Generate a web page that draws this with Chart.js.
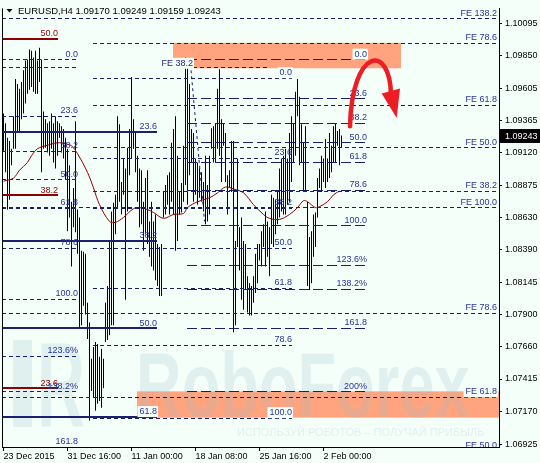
<!DOCTYPE html>
<html><head><meta charset="utf-8">
<script src="https://cdn.jsdelivr.net/npm/chart.js@4.4.1/dist/chart.umd.min.js"></script>
<style>html,body{margin:0;padding:0;background:#F5FFFA;}canvas{display:block;}</style>
</head><body>
<canvas id="c" width="540" height="463" style="width:540px;height:463px"></canvas>
<script>
// ---------- DATA ----------
const symbolName = 'EURUSD,H4';
const lastBarOHLC = [1.09170, 1.09249, 1.09159, 1.09243];

const xTickIndex = [0, 32, 64, 96, 128, 160];
const xTickLabels = ['23 Dec 2015', '31 Dec 16:00', '11 Jan 00:00', '18 Jan 08:00', '25 Jan 16:00', '2 Feb 00:00'];
const yTickValues = [1.10095, 1.09850, 1.09605, 1.09365, 1.09120, 1.08875, 1.08630, 1.08390, 1.08145, 1.07900, 1.07660, 1.07415, 1.07170, 1.06925];

const barHigh = [
1.09415,1.09341,1.09231,1.09208,1.09149,1.09393,1.09674,1.09637,1.09600,1.09652,
1.09740,1.09814,1.09822,1.09896,1.09888,1.09836,1.09888,1.09814,1.09910,1.09822,
1.09430,1.09371,1.09341,1.09356,1.09415,1.09341,1.09393,1.09356,1.09341,1.09319,
1.09297,1.09231,1.09149,1.09024,1.08750,1.08854,1.09356,1.08691,1.08632,1.08381,
1.08373,1.08358,1.07989,1.07841,1.07568,1.07656,1.07693,1.07679,1.07583,1.07642,
1.07568,1.07989,1.08115,1.08455,1.08676,1.08743,1.08802,1.09393,1.09334,1.08898,
1.09075,1.09001,1.09157,1.09297,1.09689,1.09371,1.09282,1.09097,1.09001,1.08987,
1.08750,1.08928,1.08987,1.08602,1.08750,1.08602,1.08654,1.08432,1.08410,1.08432,
1.08824,1.08876,1.08950,1.08972,1.09194,1.09297,1.09393,1.09097,1.08824,1.08891,
1.09171,1.09836,1.09785,1.09637,1.09297,1.09267,1.09075,1.09046,1.09001,1.08972,
1.08898,1.09097,1.08876,1.09097,1.09304,1.09319,1.09341,1.09600,1.09748,1.09371,
1.09341,1.09267,1.08950,1.08987,1.09208,1.09208,1.08455,1.09075,1.08558,1.08632,
1.08455,1.08432,1.08189,1.08137,1.08115,1.08189,1.08358,1.08432,1.08432,1.08528,
1.08580,1.08676,1.08602,1.08558,1.08802,1.08780,1.08765,1.08824,1.09001,1.09075,
1.09097,1.09149,1.09075,1.09267,1.09393,1.09341,1.09578,1.09674,1.09541,1.09334,
1.09194,1.09319,1.08750,1.08484,1.08528,1.08654,1.08669,1.08928,1.09001,1.09097,
1.09075,1.09223,1.09075,1.09267,1.09171,1.09319,1.09341,1.09282,1.09297,1.09249];
const barLow = [
1.09134,1.08972,1.08691,1.08765,1.09024,1.09149,1.09149,1.09267,1.09282,1.09371,
1.09415,1.09489,1.09563,1.09593,1.09615,1.09578,1.09563,1.09563,1.09652,1.08972,
1.09149,1.09157,1.09120,1.09097,1.09149,1.09046,1.09001,1.09097,1.09231,1.09120,
1.09075,1.08913,1.08528,1.08632,1.08262,1.08558,1.08521,1.08358,1.07804,1.07819,
1.07967,1.07900,1.07716,1.07102,1.07324,1.07272,1.07176,1.07228,1.07250,1.07198,
1.07346,1.07693,1.07708,1.07745,1.07819,1.07819,1.08506,1.08706,1.08750,1.08654,
1.08802,1.08011,1.08676,1.08950,1.09075,1.09149,1.08972,1.08750,1.08558,1.08580,
1.08381,1.08506,1.08432,1.08336,1.08262,1.08233,1.08159,1.08115,1.08041,1.08041,
1.08632,1.08654,1.08728,1.08654,1.08750,1.08654,1.08381,1.08455,1.08654,1.08669,
1.08750,1.08876,1.08728,1.08950,1.09046,1.08750,1.08802,1.08728,1.08780,1.08750,
1.08676,1.08580,1.08602,1.08654,1.09149,1.09046,1.09046,1.09149,1.09097,1.08898,
1.09171,1.08898,1.08654,1.08854,1.08824,1.07767,1.07819,1.08410,1.08233,1.08011,
1.07937,1.08085,1.07915,1.07893,1.07893,1.07989,1.08063,1.08137,1.08307,1.08262,
1.08410,1.08262,1.08336,1.08189,1.08432,1.08410,1.08506,1.08580,1.08632,1.08676,
1.08654,1.08654,1.08728,1.08750,1.08898,1.09046,1.09097,1.09393,1.09024,1.09046,
1.08824,1.08824,1.08115,1.08085,1.08137,1.08336,1.08410,1.08632,1.08854,1.08824,
1.08898,1.08854,1.08898,1.08928,1.08972,1.09046,1.09046,1.09171,1.09024,1.09159];

const maIndex = [0,5,8,12,14,17,21,27,31,34,37,42,45,48,53,56,60,65,68,72,75,80,85,90,92,97,103,107,111,115,120,125,130,133,138,143,147,150,152,156,158,162,165,168];
const maValue = [1.08905,1.08928,1.08987,1.09046,1.09097,1.09149,1.09171,1.09194,1.09186,1.09171,1.09112,1.08972,1.08854,1.08728,1.08602,1.08595,1.08632,1.08698,1.08706,1.08691,1.08669,1.08625,1.08654,1.08662,1.08706,1.08750,1.08780,1.08817,1.08861,1.08846,1.08817,1.08728,1.08654,1.08625,1.08617,1.08654,1.08706,1.08758,1.08750,1.08706,1.08713,1.08750,1.08802,1.08831];

// Fibonacci retracements / expansions (price levels, labels, bar-index span)
const fibA_labels = ['50.0', '38.2', '23.6'];
const fibA_prices = [1.09977, 1.08797, 1.07346];
const fibA_span = [-1, 27.25];

const fibB_labels = ['0.0','23.6','38.2','50.0','61.8','78.6','100.0','123.6%','138.2%','161.8'];
const fibB_prices = [1.09824,1.09397,1.09134,1.08920,1.08706,1.08403,1.08019,1.07590,1.07324,1.06905];
const fibB_span = [-1, 37.25];

const fibC_labels = ['23.6','38.2','50.0','61.8'];
const fibC_prices = [1.09277,1.08455,1.07797,1.07132];
const fibC_span = [-1, 76.75];

const fibD_labels = ['0.0','23.6','38.2','50.0','61.8','78.6','100.0','123.6%','138.2%','161.8','200%'];
const fibD_prices = [1.09824,1.09528,1.09346,1.09198,1.09051,1.08840,1.08573,1.08277,1.08095,1.07800,1.07322];
const fibD_span = [91.75, 181.75];

const fibE_labels = ['0.0','23.6','38.2','50.0','61.8','78.6','100.0'];
const fibE_prices = [1.09684,1.09080,1.08706,1.08403,1.08102,1.07672,1.07124];
const fibE_span = [44.75, 144.25];

const fe1_labels = ['FE 78.6','FE 61.8','FE 50.0','FE 38.2'];
const fe1_prices = [1.09947,1.09480,1.09159,1.08834];
const fe1_span = [44.75, 260];

const fe2_labels = ['FE 138.2','FE 100.0','FE 78.6','FE 61.8','FE 50.0'];
const fe2_prices = [1.10130,1.08708,1.07913,1.07282,1.06873];
const fe2_span = [-1, 260];

const plainLevelPrice = [1.09768, 1.09768];
const plainLevelFrom = [-1, 94.75];
const plainLevelTo = [37.25, 133.25];

const boxFrom = [84.75, 66.75];
const boxTo = [198.75, 260];
const boxTop = [1.09947, 1.07322];
const boxBottom = [1.09755, 1.07124];

const feNoteText = 'FE 38.2';
const feNoteAt = [94.75, 1.09800];
const diagFrom = [93.5, 1.09785];
const diagTo = [100.5, 1.08602];

const arrowStart = [173.25, 1.09319];
const arrowCtrl1 = [174.25, 1.09910];
const arrowCtrl2 = [193.25, 1.09947];
const arrowEnd = [193.75, 1.09556];
const arrowHead = [[189.1, 1.09565], [198.25, 1.09602], [196.6, 1.09381]];

// ---------- STYLE ----------
const FONT = '"Liberation Sans", Arial, sans-serif';
const BG = '#F5FFFA';
const NAVY = '#18206e';
const LBL = '#283398';
const DRED = '#8b0000';

const families = [
  {prices: fibA_prices, labels: fibA_labels, span: fibA_span, color: DRED, width: 2, dash: [], text: DRED},
  {prices: fibB_prices, labels: fibB_labels, span: fibB_span, color: NAVY, width: 1, dash: [4,3], text: LBL},
  {prices: fibC_prices, labels: fibC_labels, span: fibC_span, color: '#1b2170', width: 2, dash: [], text: LBL},
  {prices: fibD_prices, labels: fibD_labels, span: fibD_span, color: NAVY, width: 1, dash: [10,4], text: LBL},
  {prices: fibE_prices, labels: fibE_labels, span: fibE_span, color: NAVY, width: 1, dash: [4,3], text: LBL},
  {prices: fe1_prices, labels: fe1_labels, span: fe1_span, color: NAVY, width: 1, dash: [4,3], text: LBL},
  {prices: fe2_prices, labels: fe2_labels, span: fe2_span, color: NAVY, width: 1, dash: [4,3], text: LBL}
];

function hline(ctx, x0, x1, yy, color, width, dash) {
  ctx.beginPath();
  ctx.setLineDash(dash);
  ctx.strokeStyle = color;
  ctx.lineWidth = width;
  const yp = width % 2 ? Math.round(yy) + 0.5 : Math.round(yy);
  ctx.moveTo(x0, yp); ctx.lineTo(x1, yp); ctx.stroke();
  ctx.setLineDash([]);
}

function boxRects(chart) {
  const {x, y} = chart.scales;
  return boxFrom.map((f, k) => {
    const x0 = x.getPixelForValue(f), x1 = x.getPixelForValue(boxTo[k]);
    const y0 = y.getPixelForValue(boxTop[k]), y1 = y.getPixelForValue(boxBottom[k]);
    return [x0, y0, x1 - x0, y1 - y0];
  });
}

function drawLabel(ctx, text, xr, yl, color, rects, forceBg) {
  ctx.font = '9px ' + FONT;
  const w = ctx.measureText(text).width;
  const by = yl - 2.5;
  const r = [xr - w - 1, by - 7, w + 2, 8];
  const hit = forceBg || rects.some(b => r[0] < b[0] + b[2] && r[0] + r[2] > b[0] && r[1] < b[1] + b[3] && r[1] + r[3] > b[1]);
  if (hit) { ctx.fillStyle = BG; ctx.fillRect(r[0] - 1, by - 8, w + 3, 11); }
  ctx.fillStyle = color; ctx.textAlign = 'right'; ctx.textBaseline = 'alphabetic';
  ctx.fillText(text, xr, by);
}

const overlay = {
  id: 'overlay',
  beforeDraw(chart) {
    const ctx = chart.ctx;
    ctx.save(); ctx.fillStyle = BG; ctx.fillRect(0, 0, chart.width, chart.height); ctx.restore();
  },
  beforeDatasetsDraw(chart) {
    const {ctx, chartArea: a} = chart;
    ctx.save();
    ctx.beginPath(); ctx.rect(a.left, a.top, a.right - a.left, a.bottom - a.top); ctx.clip();
    ctx.fillStyle = '#ffa47e';
    boxRects(chart).forEach(r => ctx.fillRect(r[0], r[1], r[2], r[3]));
    // watermark
    ctx.fillStyle = 'rgba(150,185,200,0.22)';
    ctx.fillRect(a.left + 11, 340, 19, 87);
    ctx.save(); ctx.translate(a.left + 35, 427); ctx.scale(0.55, 1);
    ctx.font = 'bold 121px ' + FONT; ctx.textAlign = 'left'; ctx.textBaseline = 'alphabetic';
    ctx.fillText('R', 0, 0); ctx.restore();
    ctx.save(); ctx.translate(a.left + 134, 417); ctx.scale(0.68, 1);
    ctx.font = 'bold 93px ' + FONT; ctx.textAlign = 'left'; ctx.textBaseline = 'alphabetic';
    ctx.fillText('RoboForex', 0, 0); ctx.restore();
    ctx.font = '11px ' + FONT; ctx.textAlign = 'left'; ctx.textBaseline = 'middle';
    ctx.fillText('ИСПОЛЬЗУЙ РОБОТОВ – ПОЛУЧАЙ ПРИБЫЛЬ', a.left + 235, 433);
    ctx.restore();
  },
  afterDatasetsDraw(chart) {
    const {ctx, chartArea: a, scales: {x, y}} = chart;
    const rects = boxRects(chart);
    const P = (i, p) => [x.getPixelForValue(i), y.getPixelForValue(p)];
    ctx.save();
    ctx.beginPath(); ctx.rect(a.left, a.top, a.right - a.left, a.bottom - a.top); ctx.clip();
    families.forEach(f => {
      const x0 = Math.max(x.getPixelForValue(f.span[0]), a.left);
      const x1 = Math.min(x.getPixelForValue(f.span[1]), a.right);
      f.prices.forEach(p => hline(ctx, x0, x1, y.getPixelForValue(p), f.color, f.width, f.dash));
    });
    plainLevelPrice.forEach((p, k) => {
      hline(ctx, Math.max(x.getPixelForValue(plainLevelFrom[k]), a.left), x.getPixelForValue(plainLevelTo[k]), y.getPixelForValue(p), NAVY, 1, [4,3]);
    });
    ctx.beginPath(); ctx.setLineDash([3,3]); ctx.strokeStyle = NAVY; ctx.lineWidth = 1;
    const d0 = P(...diagFrom), d1 = P(...diagTo);
    ctx.moveTo(d0[0], d0[1]); ctx.lineTo(d1[0], d1[1]); ctx.stroke(); ctx.setLineDash([]);
    families.forEach(f => {
      const x1 = Math.min(x.getPixelForValue(f.span[1]), a.right - 2);
      f.prices.forEach((p, k) => drawLabel(ctx, f.labels[k], x1, y.getPixelForValue(p), f.text, rects, false));
    });
    const n = P(...feNoteAt);
    drawLabel(ctx, feNoteText, n[0], n[1] + 6, '#2a2580', rects, true);
    const s = P(...arrowStart), c1 = P(...arrowCtrl1), c2 = P(...arrowCtrl2), e = P(...arrowEnd);
    ctx.strokeStyle = '#ee1c24'; ctx.lineWidth = 4.5; ctx.lineCap = 'round';
    ctx.beginPath(); ctx.moveTo(s[0], s[1]); ctx.bezierCurveTo(c1[0], c1[1], c2[0], c2[1], e[0], e[1]); ctx.stroke();
    ctx.fillStyle = '#ee1c24'; ctx.beginPath();
    arrowHead.forEach((h, k) => { const q = P(h[0], h[1]); if (k === 0) ctx.moveTo(q[0], q[1]); else ctx.lineTo(q[0], q[1]); });
    ctx.closePath(); ctx.fill();
    ctx.restore();

    ctx.save();
    ctx.strokeStyle = '#000'; ctx.lineWidth = 1;
    ctx.beginPath(); ctx.moveTo(Math.round(a.left) + 0.5, a.top); ctx.lineTo(Math.round(a.left) + 0.5, a.bottom); ctx.stroke();
    ctx.fillStyle = '#000';
    ctx.beginPath(); ctx.moveTo(6.5, 9); ctx.lineTo(12.5, 9); ctx.lineTo(9.5, 12.5); ctx.closePath(); ctx.fill();
    ctx.font = '9.5px ' + FONT; ctx.textAlign = 'left'; ctx.textBaseline = 'alphabetic';
    ctx.fillText(symbolName + ' ' + lastBarOHLC.map(v => v.toFixed(5)).join(' '), 18, 14);
    const py = y.getPixelForValue(lastBarOHLC[3]);
    ctx.fillStyle = '#000'; ctx.fillRect(a.right + 1, Math.round(py) - 7, 41, 14);
    ctx.fillStyle = '#fff'; ctx.font = '9px ' + FONT; ctx.textBaseline = 'middle';
    ctx.fillText(lastBarOHLC[3].toFixed(5), a.right + 6, py);
    ctx.restore();
  }
};

const bars = barHigh.map((h, i) => ({x: i, y: [barLow[i], h]}));
const maPoints = maIndex.map((i, k) => ({x: i, y: maValue[k]}));

new Chart(document.getElementById('c'), {
  type: 'bar',
  data: {
    datasets: [
      {type: 'line', data: maPoints, borderColor: '#8b0000', borderWidth: 1, pointRadius: 0, tension: 0.35, order: 0},
      {type: 'bar', data: bars, backgroundColor: '#000', borderWidth: 0, barThickness: 1, inflateAmount: 0, grouped: false, order: 1}
    ]
  },
  options: {
    responsive: false, animation: false, devicePixelRatio: 1,
    layout: {padding: {left: 2, top: 0, right: 0, bottom: 0}},
    plugins: {legend: {display: false}, tooltip: {enabled: false}},
    events: [],
    scales: {
      x: {
        type: 'linear', min: -0.75, max: 247.75, offset: false, position: 'bottom',
        afterBuildTicks: s => { s.ticks = xTickIndex.map(v => ({value: v})); },
        afterFit: s => { s.height = 16; },
        grid: {drawOnChartArea: false, offset: false, tickLength: 4, color: '#000'},
        border: {color: '#000', width: 1},
        ticks: {align: 'start', maxRotation: 0, autoSkip: false, padding: 0, color: '#000', font: {family: FONT, size: 9},
          callback: v => { const k = xTickIndex.indexOf(v); return k >= 0 ? xTickLabels[k] : ''; }}
      },
      y: {
        type: 'linear', position: 'right', min: 1.06903, max: 1.10206, beginAtZero: false,
        afterBuildTicks: s => { s.ticks = yTickValues.map(v => ({value: v})); },
        afterFit: s => { s.width = 41; },
        grid: {drawOnChartArea: false, tickLength: 3, color: '#000'},
        border: {color: '#000', width: 1},
        ticks: {padding: 3, color: '#000', font: {family: FONT, size: 9}, callback: v => Number(v).toFixed(5)}
      }
    }
  },
  plugins: [overlay]
});
</script></body></html>
